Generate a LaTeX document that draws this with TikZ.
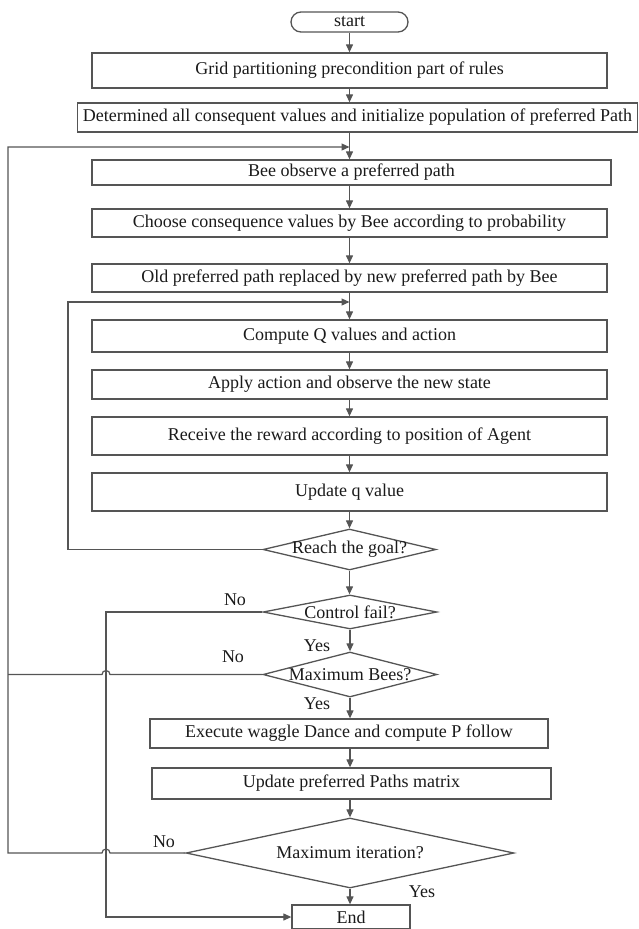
\documentclass[tikz,border=0pt]{standalone}
\usepackage{fontspec}
\setmainfont{Liberation Serif}
\usetikzlibrary{arrows.meta,shapes.geometric}
\definecolor{ln}{HTML}{555555}
\definecolor{tx}{HTML}{1A1A1A}
\begin{document}
\begin{tikzpicture}[x=1pt,y=-1pt,
  every node/.style={font=\fontsize{18}{20}\selectfont, text=tx},
  boxn/.style={draw=ln, line width=1.3pt, rectangle, inner sep=0pt},
  diam/.style={draw=ln, line width=1.3pt, diamond, inner sep=0pt},
  conn/.style={draw=ln, line width=1.2pt},
  arr/.style={conn, -{Triangle[length=8pt,width=7pt]}},
  lbl/.style={inner sep=0pt}]
\useasboundingbox (0,0) rectangle (639,929);
% nodes
\node[boxn, rounded corners=10pt, minimum width=117pt, minimum height=20pt] (start) at (349.5,22) {start};
\node[boxn, minimum width=515pt, minimum height=35pt] (grid) at (349.5,70.5) {Grid partitioning precondition part of rules};
\node[boxn, minimum width=560pt, minimum height=29pt] (det) at (357.5,117.5) {Determined all consequent values and initialize population of preferred Path};
\node[boxn, minimum width=519pt, minimum height=25pt] (bee) at (351.5,172.5) {Bee observe a preferred path};
\node[boxn, minimum width=515pt, minimum height=28pt] (choose) at (349.5,223) {Choose consequence values by Bee according to probability};
\node[boxn, minimum width=515pt, minimum height=28pt] (old) at (349.5,278) {Old preferred path replaced by new preferred path by Bee};
\node[boxn, minimum width=515pt, minimum height=32pt] (comp) at (349.5,336) {Compute Q values and action};
\node[boxn, minimum width=515pt, minimum height=29pt] (apply) at (349.5,384.5) {Apply action and observe the new state};
\node[boxn, minimum width=515pt, minimum height=38pt] (recv) at (349.5,436) {Receive the reward according to position of Agent};
\node[boxn, minimum width=515pt, minimum height=38pt] (updq) at (349.5,492) {Update q value};
\node[diam, minimum width=173pt, minimum height=41pt] (reach) at (349.5,549.5) {};
\node at (reach) {Reach the goal?};
\node[diam, minimum width=174pt, minimum height=34pt] (ctl) at (350,612) {};
\node at (ctl) {Control fail?};
\node[diam, minimum width=174pt, minimum height=45pt] (maxb) at (350,674.5) {};
\node at (maxb) {Maximum Bees?};
\node[boxn, minimum width=398pt, minimum height=29pt] (exec) at (349,733.5) {Execute waggle Dance and compute P follow};
\node[boxn, minimum width=399pt, minimum height=31pt] (updp) at (351.5,783.5) {Update preferred Paths matrix};
\node[diam, minimum width=328pt, minimum height=70pt] (maxit) at (350,853) {};
\node at (maxit) {Maximum iteration?};
\node[boxn, minimum width=118pt, minimum height=24pt] (end) at (351,917) {End};
% helper coordinates
\coordinate (m1) at (349.5,147);
\coordinate (m2) at (349.5,302);
\coordinate (lx) at (8,147);
\coordinate (rx) at (68,302);
\coordinate (cx) at (106,612);
% main flow
\draw[arr] (start.south) -- (grid.north);
\draw[arr] (grid.south) -- (grid.south |- det.north);
\draw[arr] (grid.south |- det.south) -- (grid.south |- bee.north);
\draw[arr] (grid.south |- bee.south) -- (choose.north);
\draw[arr] (choose.south) -- (old.north);
\draw[arr] (old.south) -- (comp.north);
\draw[arr] (comp.south) -- (apply.north);
\draw[arr] (apply.south) -- (recv.north);
\draw[arr] (recv.south) -- (updq.north);
\draw[arr] (updq.south) -- (reach.north);
\draw[arr] (reach.south) -- (reach.south |- ctl.north);
\draw[arr] (ctl.south) -- (maxb.north);
\draw[arr] (maxb.south) -- (maxb.south |- exec.north);
\draw[arr] (maxb.south |- exec.south) -- (maxb.south |- updp.north);
\draw[arr] (maxb.south |- updp.south) -- (maxit.north);
\draw[arr] (maxit.south) -- (maxit.south |- end.north);
% loops
\draw[arr] (reach.west) -- (rx |- reach.west) -- (rx) -- (m2);
\draw[arr] (ctl.west) -- (cx) -- (cx |- end.west) -- (end.west);
\draw[conn] (maxb.west) -- ([xshift=4pt]cx |- maxb.west) arc[start angle=0, end angle=-180, radius=4] -- (lx |- maxb.west);
\draw[arr] (maxit.west) -- ([xshift=4pt]cx |- maxit.west) arc[start angle=0, end angle=-180, radius=4] -- (lx |- maxit.west) -- (lx) -- (m1);
% labels
\node[lbl] (n1) at (235,600) {No};
\node[lbl] (y1) at (317,646) {Yes};
\node[lbl] (n2) at (233,657) {No};
\node[lbl] (y2) at (317,704) {Yes};
\node[lbl] (n3) at (164,842) {No};
\node[lbl] (y3) at (422,892) {Yes};
\end{tikzpicture}
\end{document}
